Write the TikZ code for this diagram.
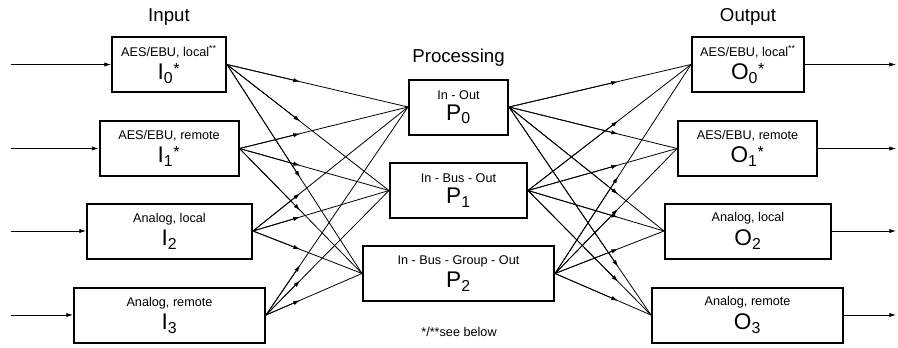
\documentclass[tikz,border=0pt]{standalone}
\usepackage{fontspec}
\setmainfont{Liberation Sans}
\usetikzlibrary{arrows.meta,calc,positioning}

\newcommand{\bigsym}[2]{{\fontsize{17}{19}\selectfont #1\textsubscript{#2}}}

\begin{document}
\begin{tikzpicture}[x=0.75pt,y=-0.75pt,
    blk/.style={draw, line width=1.5pt, minimum height=41.25pt, inner sep=0pt,
      align=center, font=\fontsize{9.5}{11}\selectfont},
    ttl/.style={font=\fontsize{14}{16}\selectfont},
    link/.style={line width=0.6pt},
    tip/.style={line width=0.6pt, -{Latex[length=5pt,width=3.2pt]}}]
\useasboundingbox (0,0) rectangle (898,347);

% titles
\node[ttl] (tin) at (169,17) {Input};
\node[ttl] (tproc) at (458.5,58) {Processing};
\node[ttl] (tout) at (748,17) {Output};

% inputs
\node[blk, minimum width=85.5pt] (i0) at (169,64.5)
  {AES/EBU, local\textsuperscript{**}\\[3pt]\bigsym{I}{0}\textsuperscript{\large *}};
\node[blk, minimum width=104.25pt] (i1) at (169,148.5)
  {AES/EBU, remote\\[3pt]\bigsym{I}{1}\textsuperscript{\large *}};
\node[blk, minimum width=123.75pt] (i2) at (169.5,231)
  {Analog, local\\[3pt]\bigsym{I}{2}};
\node[blk, minimum width=143.25pt] (i3) at (169.5,315)
  {Analog, remote\\[3pt]\bigsym{I}{3}};

% processing
\node[blk, minimum width=74.25pt] (p0) at (458.5,107)
  {In - Out\\[3pt]\bigsym{P}{0}};
\node[blk, minimum width=102.75pt] (p1) at (458.5,190.5)
  {In - Bus - Out\\[3pt]\bigsym{P}{1}};
\node[blk, minimum width=143.25pt] (p2) at (458.5,273.5)
  {In - Bus - Group - Out\\[3pt]\bigsym{P}{2}};

% outputs
\node[blk, minimum width=84pt] (o0) at (748,64.5)
  {AES/EBU, local\textsuperscript{**}\\[3pt]\bigsym{O}{0}\textsuperscript{\large *}};
\node[blk, minimum width=104.25pt] (o1) at (747.5,148.5)
  {AES/EBU, remote\\[3pt]\bigsym{O}{1}\textsuperscript{\large *}};
\node[blk, minimum width=124.5pt] (o2) at (748,231)
  {Analog, local\\[3pt]\bigsym{O}{2}};
\node[blk, minimum width=143.25pt] (o3) at (747.5,315)
  {Analog, remote\\[3pt]\bigsym{O}{3}};

\node[font=\fontsize{9.5}{11}\selectfont] (note) at (459,332) {*/**see below};

% feed in and out
\foreach \k/\yy in {0/64.5,1/148.5,2/231,3/315} {
  \coordinate (in\k) at (11,\yy);
  \coordinate (out\k) at (896,\yy);
  \draw[tip] (in\k) -- (i\k.west);
  \draw[tip] (o\k.east) -- (out\k);
}

% lines where the mid arrows sit
\coordinate (ml1) at (300,0);
\coordinate (ml2) at (300,347);
\coordinate (mr1) at (618,0);
\coordinate (mr2) at (618,347);

% every input to every processing, every processing to every output
\foreach \k in {0,...,3} {
  \foreach \p in {0,1,2} {
    \draw[link] (i\k.east) -- (p\p.west);
    \draw[tip] (i\k.east) -- (intersection of i\k.east--p\p.west and ml1--ml2);
    \draw[link] (p\p.east) -- (o\k.west);
    \draw[tip] (p\p.east) -- (intersection of p\p.east--o\k.west and mr1--mr2);
  }
}
\end{tikzpicture}
\end{document}
